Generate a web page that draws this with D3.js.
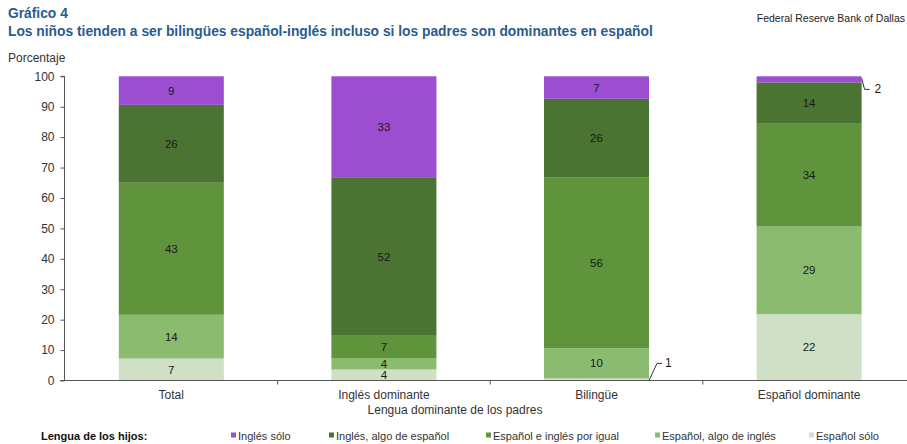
<!DOCTYPE html>
<html>
<head>
<meta charset="utf-8">
<script src="https://cdn.jsdelivr.net/npm/d3@7/dist/d3.min.js"></script>
<style>
  html, body { margin: 0; padding: 0; background: #fff; }
  svg { display: block; font-family: "Liberation Sans", Arial, sans-serif; }
</style>
</head>
<body>
<svg id="chart" width="907" height="444"></svg>
<script>
// ---- data ----
const categories = ["Total", "Inglés dominante", "Bilingüe", "Español dominante"];
const seriesNames = ["Español sólo", "Español, algo de inglés", "Español e inglés por igual", "Inglés, algo de español", "Inglés sólo"];
const espanolSolo     = [7.2, 3.6, 0.7, 21.8];
const espanolAlgoIng  = [14.4, 3.8, 9.9, 28.8];
const espanolIngIgual = [43.4, 7.3, 56.1, 33.8];
const inglesAlgoEsp   = [25.6, 51.9, 25.9, 13.6];
const inglesSolo      = [9.4, 33.4, 7.4, 2.0];
const yTicks = [0, 10, 20, 30, 40, 50, 60, 70, 80, 90, 100];
const colors = ["#cfe0c6", "#8bbb6f", "#5f933c", "#4b7331", "#9b4fd0"];

const seriesValues = [espanolSolo, espanolAlgoIng, espanolIngIgual, inglesAlgoEsp, inglesSolo];
const rows = categories.map((c, i) => {
  const r = { cat: c };
  seriesNames.forEach((s, j) => r[s] = seriesValues[j][i]);
  return r;
});

const svg = d3.select("#chart");
const blue = "#2a5b8f";

// titles
svg.append("text").attr("x", 8).attr("y", 18).attr("fill", blue)
  .attr("font-size", 13.8).attr("font-weight", "bold").text("Gráfico 4");
svg.append("text").attr("x", 8).attr("y", 36).attr("fill", blue)
  .attr("font-size", 13.8).attr("font-weight", "bold")
  .text("Los niños tienden a ser bilingües español-inglés incluso si los padres son dominantes en español");
svg.append("text").attr("x", 905).attr("y", 22).attr("fill", "#222")
  .attr("text-anchor", "end").attr("font-size", 10.5).text("Federal Reserve Bank of Dallas");
svg.append("text").attr("x", 8).attr("y", 62).attr("fill", "#333")
  .attr("font-size", 12).text("Porcentaje");

// scales
const y = d3.scaleLinear().domain([0, 100]).range([380.5, 76.3]);
const x = d3.scaleBand().domain(categories).range([65, 915.4])
  .paddingInner(0.506).paddingOuter(0.253);

const stack = d3.stack().keys(seriesNames)(rows);

// bars
const g = svg.append("g");
stack.forEach((layer, li) => {
  g.selectAll(null).data(layer).enter().append("rect")
    .attr("x", d => x(d.data.cat))
    .attr("width", x.bandwidth())
    .attr("y", d => y(d[1]))
    .attr("height", d => y(d[0]) - y(d[1]))
    .attr("fill", colors[li]);
});

// value labels
const fmt = d3.format(".0f");
stack.forEach((layer, li) => {
  layer.forEach(d => {
    const v = d[1] - d[0];
    const cx = x(d.data.cat) + x.bandwidth() / 2;
    if (v >= 3) {
      g.append("text").attr("x", cx).attr("y", (y(d[0]) + y(d[1])) / 2 + 4)
        .attr("text-anchor", "middle").attr("font-size", 11.5).attr("fill", "#1a1a1a")
        .text(fmt(v));
    } else {
      // callout outside the bar
      const right = x(d.data.cat) + x.bandwidth();
      let pts, lx, ly;
      if (li === 0) {
        pts = [[right, y(d[0])], [right + 8, y(d[1]) - 15], [right + 13, y(d[1]) - 15]];
        lx = right + 16; ly = y(d[1]) - 11;
      } else {
        pts = [[right, y(d[1]) + 2], [right + 3, y(d[0]) + 7], [right + 8, y(d[0]) + 7]];
        lx = right + 13; ly = y(d[0]) + 11;
      }
      g.append("path").attr("d", d3.line()(pts)).attr("fill", "none")
        .attr("stroke", "#333").attr("stroke-width", 1);
      g.append("text").attr("x", lx).attr("y", ly).attr("font-size", 12)
        .attr("fill", "#1a1a1a").text(fmt(v));
    }
  });
});

// y axis
const yAxis = d3.axisLeft(y).tickValues(yTicks).tickSize(4).tickPadding(6);
const ya = svg.append("g").attr("transform", "translate(64.5,0)").call(yAxis);
ya.select(".domain").attr("stroke", "#555").attr("d", `M-4,${y(100)}H0V${y(0)}`);
ya.selectAll(".tick line").attr("stroke", "#555");
ya.selectAll(".tick text").attr("font-size", 12).attr("fill", "#333")
  .attr("font-family", "Liberation Sans, Arial, sans-serif");

// x axis
const xa = svg.append("g").attr("transform", `translate(0,${y(0)})`);
xa.append("line").attr("x1", 60).attr("x2", 915).attr("y1", 0).attr("y2", 0)
  .attr("stroke", "#555");
const step = x.step();
categories.slice(1).forEach(c => {
  const bx = x(c) - (step - x.bandwidth()) / 2;
  xa.append("line").attr("x1", bx).attr("x2", bx).attr("y1", 0).attr("y2", 4)
    .attr("stroke", "#555");
});
categories.forEach(c => {
  xa.append("text").attr("x", x(c) + x.bandwidth() / 2).attr("y", 18)
    .attr("text-anchor", "middle").attr("font-size", 12).attr("fill", "#333").text(c);
});
svg.append("text").attr("x", 455).attr("y", 414).attr("text-anchor", "middle")
  .attr("font-size", 12).attr("fill", "#333").text("Lengua dominante de los padres");

// legend
svg.append("text").attr("x", 41).attr("y", 440).attr("font-size", 11)
  .attr("font-weight", "bold").attr("fill", "#111").text("Lengua de los hijos:");
const legendOrder = [4, 3, 2, 1, 0];
const legendX = [231, 329, 486, 655, 809];
legendOrder.forEach((si, k) => {
  const lg = svg.append("g").attr("transform", `translate(${legendX[k]},0)`);
  lg.append("rect").attr("x", 0).attr("y", 432.5).attr("width", 5).attr("height", 5)
    .attr("fill", colors[si]);
  lg.append("text").attr("x", 7).attr("y", 440).attr("font-size", 11)
    .attr("fill", "#333").text(seriesNames[si]);
});
</script>
</body>
</html>
